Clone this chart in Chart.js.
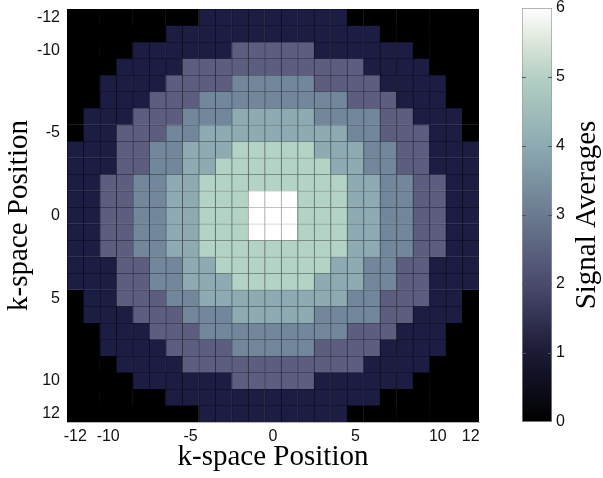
<!DOCTYPE html>
<html>
<head>
<meta charset="utf-8">
<script src="https://cdn.jsdelivr.net/npm/chart.js@4.4.0/dist/chart.umd.min.js"></script>
<style>
  html, body { margin: 0; padding: 0; background: #fff; }
  #wrap { position: relative; width: 603px; height: 478px; }
  #main-box { position: absolute; left: 0; top: 0; width: 500px; height: 478px; }
  #bar-box { position: absolute; left: 500px; top: 0; width: 103px; height: 478px; }
</style>
</head>
<body>
<div id="wrap">
  <div id="main-box"><canvas id="kspace-chart"></canvas></div>
  <div id="bar-box"><canvas id="colorbar-chart"></canvas></div>
</div>
<script>
// k-space positions (same for both axes)
const kPositions = [-12, -11, -10, -9, -8, -7, -6, -5, -4, -3, -2, -1, 0,
                    1, 2, 3, 4, 5, 6, 7, 8, 9, 10, 11, 12];
const xTicks = [-12, -10, -5, 0, 5, 10, 12];
const yTicks = [-12, -10, -5, 0, 5, 10, 12];
const colorbarTicks = [0, 1, 2, 3, 4, 5, 6];

// number of signal averages per cell, one row per ky (top = -12)
const signalAverages = [
  [0,0,0,0,0,0,0,0,1,1,1,1,1,1,1,1,1,0,0,0,0,0,0,0,0],
  [0,0,0,0,0,0,1,1,1,1,1,1,1,1,1,1,1,1,1,0,0,0,0,0,0],
  [0,0,0,0,1,1,1,1,1,1,2,2,2,2,2,1,1,1,1,1,1,0,0,0,0],
  [0,0,0,1,1,1,1,2,2,2,2,2,2,2,2,2,2,2,1,1,1,1,0,0,0],
  [0,0,1,1,1,1,2,2,2,2,3,3,3,3,3,2,2,2,2,1,1,1,1,0,0],
  [0,0,1,1,1,2,2,2,3,3,3,3,3,3,3,3,3,2,2,2,1,1,1,0,0],
  [0,1,1,1,2,2,2,3,3,3,4,4,4,4,4,3,3,3,3,2,2,1,1,1,0],
  [0,1,1,2,2,2,3,3,4,4,4,4,4,4,4,4,4,3,3,2,2,2,1,1,0],
  [1,1,1,2,2,3,3,4,4,4,5,5,5,5,5,4,4,4,3,3,2,2,1,1,1],
  [1,1,1,2,2,3,3,4,4,5,5,5,5,5,5,5,4,4,3,3,2,2,1,1,1],
  [1,1,2,2,3,3,4,4,5,5,5,5,5,5,5,5,5,4,4,3,3,2,2,1,1],
  [1,1,2,2,3,3,4,4,5,5,5,6,6,6,5,5,5,4,4,3,3,2,2,1,1],
  [1,1,2,2,3,3,4,4,5,5,5,6,6,6,5,5,5,4,4,3,3,2,2,1,1],
  [1,1,2,2,3,3,4,4,5,5,5,6,6,6,5,5,5,4,4,3,3,2,2,1,1],
  [1,1,2,2,3,3,4,4,5,5,5,5,5,5,5,5,5,4,4,3,3,2,2,1,1],
  [1,1,1,2,2,3,3,4,4,5,5,5,5,5,5,5,4,4,3,3,2,2,1,1,1],
  [1,1,1,2,2,3,3,4,4,4,5,5,5,5,5,4,4,4,3,3,2,2,1,1,1],
  [0,1,1,2,2,2,3,3,4,4,4,4,4,4,4,4,4,3,3,2,2,2,1,1,0],
  [0,1,1,1,2,2,2,3,3,3,4,4,4,4,4,3,3,3,3,2,2,1,1,1,0],
  [0,0,1,1,1,2,2,2,3,3,3,3,3,3,3,3,3,2,2,2,1,1,1,0,0],
  [0,0,1,1,1,1,2,2,2,2,3,3,3,3,3,2,2,2,2,1,1,1,1,0,0],
  [0,0,0,1,1,1,1,2,2,2,2,2,2,2,2,2,2,2,1,1,1,1,0,0,0],
  [0,0,0,0,1,1,1,1,1,1,2,2,2,2,2,1,1,1,1,1,1,0,0,0,0],
  [0,0,0,0,0,0,1,1,1,1,1,1,1,1,1,1,1,1,1,0,0,0,0,0,0],
  [0,0,0,0,0,0,0,0,1,1,1,1,1,1,1,1,1,0,0,0,0,0,0,0,0]
];

// bone-like colours for each level 0..6, and the darker cell edge for each
const LEVEL_COLORS  = ['#000000', '#1d1d44', '#5d5d7f', '#72879b', '#8eaab3', '#b3d3c5', '#ffffff'];
const LEVEL_BORDERS = ['#000000', '#0c0c20', '#2a2a3c', '#343e48', '#414e54', '#52605a', '#9c9c9c'];
// colorbar gradient stops [value, colour]
const CBAR_STOPS = [[0, '#000000'], [1, '#1a1a36'], [2, '#4a4a6c'], [3, '#6a7a90'],
                    [4, '#8caab2'], [5, '#b4d0c4'], [5.5, '#dce6da'], [6, '#ffffff']];

const TICK_FONT = { family: 'Liberation Sans, Arial, sans-serif', size: 16 };
const TITLE_FONT = { family: 'Liberation Serif, Times New Roman, serif', size: 29 };

/* -------------------------------------------------------
   1. k-space heat map (one floating-bar dataset per row)
------------------------------------------------------- */
const rowDatasets = kPositions.map((ky, r) => ({
  label: 'ky ' + ky,
  data: kPositions.map(() => [ky - 0.5, ky + 0.5]),
  backgroundColor: signalAverages[r].map(v => LEVEL_COLORS[v]),
  borderColor: signalAverages[r].map(v => LEVEL_BORDERS[v]),
  borderWidth: { top: 1, left: 1, right: 0, bottom: 0 },
  borderSkipped: false,
  inflateAmount: 0.5,
  barPercentage: 1,
  categoryPercentage: 1,
  grouped: false,
}));

new Chart(document.getElementById('kspace-chart'), {
  type: 'bar',
  data: { labels: kPositions.map(String), datasets: rowDatasets },
  options: {
    responsive: true,
    maintainAspectRatio: false,
    animation: false,
    layout: { padding: { top: 9, right: 21, bottom: 0, left: 0 } },
    plugins: { legend: { display: false }, tooltip: { enabled: false } },
    scales: {
      x: {
        type: 'category',
        offset: true,
        grid: { display: false, drawTicks: false },
        border: { display: true, color: '#b5b5b5' },
        ticks: {
          autoSkip: false, maxRotation: 0, padding: 5, color: '#111', font: TICK_FONT,
          callback: (v, i) => xTicks.includes(kPositions[i]) ? String(kPositions[i]) : ''
        },
        title: { display: true, text: 'k-space Position', color: '#000', font: TITLE_FONT,
                 padding: { top: 0, bottom: 3 } },
        afterFit: s => { s.height = 56; s.paddingLeft = 0; s.paddingRight = 0; }
      },
      y: {
        type: 'linear',
        min: -12.5,
        max: 12.5,
        reverse: true,
        grid: { display: false, drawTicks: false },
        border: { display: true, color: '#b5b5b5' },
        ticks: { padding: 7, color: '#111', font: TICK_FONT },
        afterBuildTicks: s => { s.ticks = yTicks.map(v => ({ value: v })); },
        title: { display: true, text: 'k-space Position', color: '#000', font: TITLE_FONT,
                 padding: { top: 2, bottom: 0 } },
        afterFit: s => { s.width = 67; s.paddingTop = 0; s.paddingBottom = 0; }
      }
    }
  }
});

/* -------------------------------------------------------
   2. Colorbar
------------------------------------------------------- */
function barGradient(chart) {
  const area = chart.chartArea;
  if (!area) return '#888';
  const g = chart.ctx.createLinearGradient(0, area.bottom, 0, area.top);
  const top = colorbarTicks[colorbarTicks.length - 1];
  CBAR_STOPS.forEach(([v, c]) => g.addColorStop(v / top, c));
  return g;
}

const colorbarExtras = {
  id: 'colorbarExtras',
  afterDatasetsDraw(chart) {
    const { ctx, chartArea: a, scales } = chart;
    ctx.save();
    ctx.strokeStyle = '#555';
    ctx.lineWidth = 1;
    colorbarTicks.slice(1, -1).forEach(v => {
      const y = Math.round(scales.y.getPixelForValue(v)) + 0.5;
      ctx.beginPath();
      ctx.moveTo(a.left, y); ctx.lineTo(a.left + 4, y);
      ctx.moveTo(a.right - 4, y); ctx.lineTo(a.right, y);
      ctx.stroke();
    });
    // rotated colorbar label
    ctx.translate(a.right + 35, (a.top + a.bottom) / 2);
    ctx.rotate(-Math.PI / 2);
    ctx.font = `${TITLE_FONT.size}px ${TITLE_FONT.family}`;
    ctx.fillStyle = '#000';
    ctx.textAlign = 'center';
    ctx.textBaseline = 'middle';
    ctx.fillText('Signal Averages', 0, 0);
    ctx.restore();
  }
};

new Chart(document.getElementById('colorbar-chart'), {
  type: 'bar',
  data: {
    labels: [''],
    datasets: [{
      data: [[colorbarTicks[0], colorbarTicks[colorbarTicks.length - 1]]],
      backgroundColor: ctx => barGradient(ctx.chart),
      borderColor: '#9a9a9a',
      borderWidth: 1,
      borderSkipped: false,
      barPercentage: 1,
      categoryPercentage: 1,
    }]
  },
  options: {
    responsive: true,
    maintainAspectRatio: false,
    animation: false,
    layout: { padding: { top: 8, right: 0, bottom: 56, left: 22 } },
    plugins: { legend: { display: false }, tooltip: { enabled: false } },
    scales: {
      x: { display: false },
      y: {
        position: 'right',
        min: 0,
        max: 6,
        grid: { display: false, drawTicks: false },
        border: { display: false },
        ticks: { stepSize: 1, padding: 4, color: '#111', font: TICK_FONT },
        afterFit: s => { s.width = 51; s.paddingTop = 0; s.paddingBottom = 0; }
      }
    }
  },
  plugins: [colorbarExtras]
});
</script>
</body>
</html>
